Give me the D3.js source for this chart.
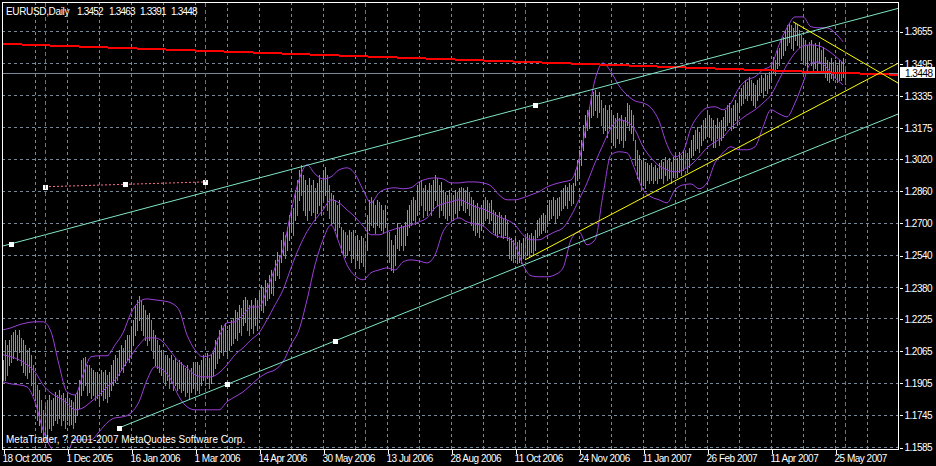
<!DOCTYPE html>
<html><head><meta charset="utf-8">
<script src="https://cdn.jsdelivr.net/npm/d3@7"></script>
<style>html,body{margin:0;padding:0;background:#000;}svg{display:block}</style>
</head><body>
<script>
// ---------------- DATA ----------------
const symbolTitle = "EURUSD,Daily";
const lastOHLC = [1.3452, 1.3463, 1.3391, 1.3448];
const bidPrice = 1.3448;
const copyright = "MetaTrader, ? 2001-2007 MetaQuotes Software Corp.";
const priceLabels = ["1.3655","1.3495","1.3335","1.3175","1.3020","1.2860","1.2700","1.2540","1.2380","1.2225","1.2065","1.1905","1.1745","1.1585"];
const dateLabels = ["18 Oct 2005","1 Dec 2005","16 Jan 2006","1 Mar 2006","14 Apr 2006","30 May 2006","13 Jul 2006","28 Aug 2006","11 Oct 2006","24 Nov 2006","11 Jan 2007","26 Feb 2007","11 Apr 2007","25 May 2007"];
const dateLabelBars = [0,32,64,96,128,160,192,224,256,288,320,352,384,416];

const highs = [
1.2019,1.2118,1.2093,1.2118,1.2143,1.2158,1.2168,1.2143,1.2168,1.2128,
1.2118,1.2093,1.2068,1.2078,1.2043,1.1994,1.1944,1.1894,1.1869,1.1820,
1.1770,1.1795,1.1820,1.1844,1.1820,1.1830,1.1859,1.1844,1.1869,1.1844,
1.1854,1.1830,1.1844,1.1830,1.1820,1.1810,1.1844,1.1859,1.1919,1.2019,
1.2029,1.2034,1.1994,1.1994,1.1979,1.1969,1.1959,1.1959,1.1944,1.1969,
1.1959,1.1969,1.1944,1.1959,1.1994,1.2019,1.2043,1.2029,1.2068,1.2093,
1.2078,1.2118,1.2143,1.2143,1.2183,1.2218,1.2292,1.2317,1.2337,1.2317,
1.2292,1.2267,1.2242,1.2252,1.2218,1.2168,1.2143,1.2118,1.2093,1.2068,
1.2058,1.2043,1.2043,1.2029,1.2043,1.2019,1.2029,1.2009,1.2019,1.2009,
1.1994,1.1979,1.1994,1.1969,1.1979,1.2009,1.1994,1.2009,1.1994,1.2019,
1.2043,1.2029,1.2053,1.2029,1.2043,1.2068,1.2118,1.2128,1.2168,1.2193,
1.2178,1.2203,1.2168,1.2193,1.2218,1.2228,1.2267,1.2257,1.2292,1.2277,
1.2317,1.2332,1.2317,1.2292,1.2317,1.2292,1.2327,1.2317,1.2357,1.2392,
1.2382,1.2417,1.2402,1.2441,1.2466,1.2456,1.2516,1.2556,1.2541,1.2616,
1.2656,1.2641,1.2680,1.2740,1.2790,1.2775,1.2865,1.2914,1.2964,1.2989,
1.2939,1.2914,1.2889,1.2924,1.2889,1.2914,1.2875,1.2899,1.2939,1.2914,
1.2964,1.2979,1.2939,1.2889,1.2850,1.2840,1.2815,1.2790,1.2815,1.2680,
1.2666,1.2656,1.2641,1.2666,1.2656,1.2666,1.2626,1.2641,1.2616,1.2636,
1.2626,1.2606,1.2740,1.2815,1.2830,1.2815,1.2790,1.2815,1.2805,1.2790,
1.2765,1.2790,1.2680,1.2656,1.2616,1.2591,1.2641,1.2700,1.2675,1.2690,
1.2685,1.2705,1.2765,1.2790,1.2815,1.2830,1.2815,1.2889,1.2904,1.2914,
1.2875,1.2889,1.2865,1.2899,1.2889,1.2914,1.2939,1.2924,1.2889,1.2904,
1.2865,1.2855,1.2840,1.2865,1.2850,1.2840,1.2865,1.2855,1.2875,1.2879,
1.2875,1.2865,1.2879,1.2855,1.2830,1.2815,1.2790,1.2800,1.2775,1.2790,
1.2815,1.2830,1.2815,1.2800,1.2815,1.2765,1.2755,1.2740,1.2755,1.2740,
1.2725,1.2740,1.2715,1.2631,1.2626,1.2616,1.2626,1.2606,1.2616,1.2601,
1.2626,1.2631,1.2651,1.2641,1.2651,1.2636,1.2666,1.2715,1.2725,1.2740,
1.2750,1.2740,1.2790,1.2815,1.2815,1.2830,1.2815,1.2825,1.2830,1.2865,
1.2875,1.2889,1.2879,1.2899,1.2889,1.2899,1.2964,1.3014,1.3064,1.3113,
1.3188,1.3238,1.3263,1.3277,1.3337,1.3352,1.3362,1.3337,1.3352,1.3312,
1.3273,1.3287,1.3263,1.3287,1.3248,1.3238,1.3223,1.3248,1.3223,1.3238,
1.3213,1.3228,1.3297,1.3287,1.3263,1.3238,1.3113,1.3064,1.3039,1.3014,
1.3024,1.3004,1.2999,1.2989,1.2999,1.2979,1.2989,1.2974,1.2999,1.3014,
1.3004,1.3029,1.3014,1.3024,1.3004,1.3029,1.3039,1.3024,1.3054,1.3039,
1.3064,1.3054,1.3049,1.3074,1.3113,1.3138,1.3163,1.3178,1.3153,1.3188,
1.3213,1.3223,1.3248,1.3238,1.3223,1.3213,1.3188,1.3223,1.3203,1.3213,
1.3228,1.3263,1.3287,1.3297,1.3273,1.3287,1.3312,1.3297,1.3337,1.3372,
1.3387,1.3412,1.3402,1.3427,1.3412,1.3397,1.3387,1.3412,1.3422,1.3437,
1.3422,1.3447,1.3437,1.3452,1.3487,1.3526,1.3511,1.3561,1.3571,1.3611,
1.3626,1.3661,1.3686,1.3695,1.3686,1.3671,1.3695,1.3686,1.3661,1.3636,
1.3621,1.3611,1.3586,1.3601,1.3611,1.3586,1.3596,1.3571,1.3601,1.3561,
1.3576,1.3526,1.3511,1.3501,1.3521,1.3501,1.3511,1.3487,1.3511,1.3501,
1.3521,1.3463];

const lows = [
1.1919,1.1919,1.1944,1.1994,1.2009,1.2029,1.2068,1.2019,1.2058,1.1994,
1.1959,1.1944,1.1929,1.1959,1.1894,1.1844,1.1820,1.1720,1.1695,1.1660,
1.1621,1.1645,1.1631,1.1680,1.1670,1.1695,1.1720,1.1705,1.1730,1.1695,
1.1720,1.1680,1.1720,1.1695,1.1700,1.1680,1.1710,1.1745,1.1780,1.1844,
1.1869,1.1894,1.1844,1.1859,1.1830,1.1844,1.1820,1.1830,1.1795,1.1844,
1.1820,1.1830,1.1810,1.1839,1.1869,1.1894,1.1909,1.1919,1.1944,1.1969,
1.1959,1.1994,1.2019,1.2009,1.2043,1.2093,1.2143,1.2168,1.2218,1.2168,
1.2143,1.2118,1.2093,1.2118,1.2068,1.2029,1.1994,1.1979,1.1959,1.1944,
1.1919,1.1894,1.1919,1.1879,1.1909,1.1869,1.1894,1.1869,1.1879,1.1859,
1.1869,1.1839,1.1859,1.1830,1.1859,1.1879,1.1859,1.1869,1.1854,1.1894,
1.1919,1.1894,1.1929,1.1879,1.1904,1.1944,1.1979,1.2004,1.2029,1.2058,
1.2043,1.2068,1.2029,1.2068,1.2093,1.2103,1.2128,1.2118,1.2158,1.2143,
1.2193,1.2208,1.2168,1.2143,1.2178,1.2153,1.2193,1.2168,1.2228,1.2267,
1.2257,1.2292,1.2317,1.2327,1.2352,1.2342,1.2417,1.2441,1.2426,1.2506,
1.2541,1.2526,1.2566,1.2616,1.2656,1.2641,1.2715,1.2740,1.2815,1.2840,
1.2765,1.2740,1.2715,1.2765,1.2740,1.2755,1.2715,1.2750,1.2790,1.2740,
1.2815,1.2840,1.2765,1.2725,1.2690,1.2705,1.2666,1.2631,1.2680,1.2556,
1.2541,1.2531,1.2541,1.2566,1.2506,1.2526,1.2491,1.2516,1.2476,1.2506,
1.2486,1.2476,1.2566,1.2666,1.2690,1.2680,1.2651,1.2690,1.2680,1.2666,
1.2656,1.2680,1.2541,1.2506,1.2466,1.2456,1.2491,1.2576,1.2566,1.2591,
1.2566,1.2591,1.2641,1.2680,1.2690,1.2715,1.2695,1.2740,1.2765,1.2790,
1.2730,1.2765,1.2740,1.2765,1.2740,1.2765,1.2815,1.2790,1.2730,1.2765,
1.2740,1.2725,1.2715,1.2740,1.2725,1.2715,1.2750,1.2730,1.2765,1.2790,
1.2765,1.2755,1.2775,1.2740,1.2690,1.2666,1.2641,1.2656,1.2631,1.2666,
1.2705,1.2715,1.2725,1.2705,1.2715,1.2656,1.2641,1.2631,1.2651,1.2631,
1.2626,1.2641,1.2616,1.2526,1.2516,1.2506,1.2526,1.2501,1.2506,1.2501,
1.2526,1.2541,1.2541,1.2531,1.2556,1.2541,1.2566,1.2631,1.2641,1.2651,
1.2666,1.2656,1.2700,1.2715,1.2725,1.2740,1.2705,1.2725,1.2740,1.2765,
1.2775,1.2790,1.2775,1.2815,1.2790,1.2800,1.2889,1.2914,1.2939,1.2989,
1.3064,1.3128,1.3163,1.3173,1.3228,1.3238,1.3263,1.3228,1.3253,1.3188,
1.3148,1.3163,1.3128,1.3173,1.3113,1.3088,1.3078,1.3123,1.3098,1.3113,
1.3078,1.3113,1.3188,1.3163,1.3148,1.3113,1.2989,1.2924,1.2914,1.2865,
1.2889,1.2875,1.2914,1.2899,1.2914,1.2899,1.2914,1.2899,1.2924,1.2924,
1.2899,1.2939,1.2914,1.2924,1.2899,1.2929,1.2939,1.2929,1.2954,1.2939,
1.2964,1.2974,1.2954,1.2979,1.3029,1.3039,1.3064,1.3074,1.3054,1.3088,
1.3113,1.3123,1.3148,1.3128,1.3113,1.3078,1.3078,1.3123,1.3088,1.3113,
1.3128,1.3163,1.3188,1.3203,1.3163,1.3173,1.3213,1.3188,1.3253,1.3287,
1.3297,1.3322,1.3312,1.3337,1.3312,1.3287,1.3277,1.3312,1.3337,1.3352,
1.3327,1.3362,1.3347,1.3372,1.3412,1.3447,1.3437,1.3472,1.3487,1.3521,
1.3536,1.3561,1.3586,1.3601,1.3571,1.3561,1.3611,1.3586,1.3576,1.3511,
1.3501,1.3487,1.3462,1.3511,1.3487,1.3452,1.3472,1.3462,1.3501,1.3452,
1.3462,1.3427,1.3412,1.3402,1.3422,1.3412,1.3422,1.3402,1.3412,1.3412,
1.3427,1.3391];

// u = bullish bar (close above open), d = bearish bar
const barDirection = [
"udduduudud","udduddddud","dududuudud","udududuuuu","dududududu",
"duduuuuduu","duuduuudud","uddudduddu","ddudududud","ududuududu",
"ududuuuduu","duduududud","uuddududuu","duduuduudu","uduuududud",
"dudududuud","uuddduddud","uddudududu","dduudududu","dudduduudu",
"duuududuud","dududuuddu","dududdudud","ududdududu","ududududud",
"duddududud","uuududuudu","uduududuud","uududuuuuu","uuduududud",
"dududududu","duududddud","ududududuu","dudududuud","uuduuududu",
"dududududu","uududuuduu","dududududu","duduuududu","uududududd",
"ududududud","ududududud","ud"].join("");

// Bollinger bands (20, 2), one reading every 4th bar
const bbStep = 4;
const bbUpper = [
1.2168,1.2178,1.2193,1.2203,1.2208,1.2208,1.2158,1.1994,1.1859,1.1844,
1.1944,1.2034,1.2039,1.2039,1.2093,1.2153,1.2252,1.2307,1.2322,1.2317,
1.2312,1.2302,1.2267,1.2143,1.2068,1.2034,1.2043,1.2133,1.2203,1.2208,
1.2242,1.2282,1.2282,1.2367,1.2476,1.2566,1.2755,1.2914,1.2989,1.2944,
1.2919,1.2929,1.2964,1.2974,1.2944,1.2865,1.2800,1.2850,1.2870,1.2875,
1.2870,1.2875,1.2904,1.2919,1.2924,1.2919,1.2899,1.2899,1.2904,1.2904,
1.2899,1.2884,1.2840,1.2815,1.2815,1.2825,1.2840,1.2855,1.2879,1.2894,
1.2904,1.2914,1.3014,1.3203,1.3412,1.3496,1.3452,1.3382,1.3337,1.3307,
1.3297,1.3273,1.3208,1.3089,1.3029,1.3054,1.3173,1.3238,1.3273,1.3278,
1.3263,1.3297,1.3372,1.3412,1.3427,1.3462,1.3482,1.3586,1.3671,1.3725,
1.3725,1.3676,1.3671,1.3671,1.3646,1.3601];
const bbMiddle = [
1.2044,1.2034,1.2019,1.1994,1.1959,1.1894,1.1854,1.1830,1.1805,1.1770,
1.1780,1.1810,1.1844,1.1884,1.1919,1.1979,1.2039,1.2093,1.2128,1.2128,
1.2108,1.2058,1.2009,1.1979,1.1944,1.1934,1.1934,1.1954,1.1994,1.2044,
1.2078,1.2118,1.2153,1.2218,1.2292,1.2367,1.2476,1.2576,1.2656,1.2715,
1.2765,1.2815,1.2800,1.2765,1.2730,1.2685,1.2641,1.2641,1.2656,1.2670,
1.2680,1.2690,1.2705,1.2725,1.2775,1.2795,1.2805,1.2815,1.2800,1.2780,
1.2770,1.2750,1.2730,1.2715,1.2690,1.2641,1.2616,1.2616,1.2636,1.2656,
1.2675,1.2735,1.2815,1.2899,1.2999,1.3089,1.3173,1.3213,1.3203,1.3163,
1.3079,1.3024,1.2984,1.2964,1.2954,1.2964,1.2989,1.3029,1.3074,1.3103,
1.3128,1.3173,1.3208,1.3238,1.3263,1.3297,1.3337,1.3412,1.3487,1.3546,
1.3581,1.3586,1.3581,1.3561,1.3531,1.3496];
const bbLower = [
1.1909,1.1899,1.1894,1.1884,1.1810,1.1670,1.1581,1.1546,1.1561,1.1621,
1.1621,1.1621,1.1660,1.1705,1.1730,1.1735,1.1755,1.1810,1.1919,1.1984,
1.1969,1.1919,1.1835,1.1785,1.1770,1.1770,1.1770,1.1770,1.1810,1.1835,
1.1859,1.1894,1.1929,1.1954,1.1969,1.2009,1.2093,1.2168,1.2317,1.2491,
1.2616,1.2690,1.2601,1.2491,1.2437,1.2417,1.2452,1.2466,1.2476,1.2466,
1.2506,1.2516,1.2511,1.2501,1.2541,1.2656,1.2705,1.2725,1.2705,1.2695,
1.2685,1.2651,1.2631,1.2626,1.2591,1.2491,1.2437,1.2432,1.2432,1.2442,
1.2476,1.2616,1.2656,1.2591,1.2616,1.2840,1.3039,1.3054,1.3049,1.2964,
1.2865,1.2830,1.2815,1.2800,1.2865,1.2889,1.2894,1.2870,1.2899,1.2999,
1.3049,1.3079,1.3064,1.3064,1.3079,1.3178,1.3263,1.3243,1.3228,1.3297,
1.3397,1.3496,1.3501,1.3471,1.3422,1.3387];

// hand-drawn objects: [bar, price] anchor points
const channelTop = [[4, 1.2596], [266, 1.3288]];
const channelBottom = [[58, 1.1680], [166, 1.2113]];
const supportYellow = [[261, 1.2516], [396, 1.3224]];
const resistYellow = [[395, 1.3701], [421, 1.3550]];
const redLine = [[0, 1.3591], [421, 1.3446]];
const cycleAnchors = [[21, 1.2880], [101, 1.2904]];
const cycleBars = [21, 101, 181, 261, 341, 421];

// ---------------- DRAWING ----------------
const W = 936, H = 466;
const PL = 2, PT = 2, PR = 898, PB = 450;
const nBars = highs.length;
const x = d3.scaleLinear().domain([0, 421]).range([3, 845]);
const y = d3.scaleLinear().domain([1.1585, 1.3655]).range([447, 31]);
const px = v => Math.round(v) + 0.5;
const FONT = "'Liberation Sans', Arial, sans-serif";

const svg = d3.select("body").append("svg").attr("width", W).attr("height", H)
  .style("font-family", FONT);
svg.append("rect").attr("width", W).attr("height", H).attr("fill", "#000");
svg.append("defs").append("clipPath").attr("id", "plot")
  .append("rect").attr("x", PL + 1).attr("y", PT + 1).attr("width", PR - PL - 1).attr("height", PB - PT - 1);

const plot = svg.append("g").attr("clip-path", "url(#plot)");

// grid
const grid = plot.append("g").attr("stroke", "#778899").attr("stroke-width", 1)
  .attr("stroke-dasharray", "3,3").attr("shape-rendering", "crispEdges");
priceLabels.forEach(s => {
  const yy = px(y(+s));
  grid.append("line").attr("x1", PL).attr("x2", PR).attr("y1", yy).attr("y2", yy);
});
d3.range(16, 440, 16).filter(b => x(b) < PR - 1).forEach(b => {
  const xx = px(x(b));
  grid.append("line").attr("x1", xx).attr("x2", xx).attr("y1", PT).attr("y2", PB);
});

// cycle lines (vertical separators)
cycleBars.forEach(b => {
  const xx = px(x(b));
  svg.append("path").attr("d", `M${xx},${PT + 1}V${PB - 1}`)
    .attr("stroke", "#d23c8a").attr("stroke-width", 1).attr("fill", "none")
    .attr("stroke-dasharray", "4,3").attr("shape-rendering", "crispEdges");
});

// bid line
plot.append("line").attr("x1", PL).attr("x2", PR)
  .attr("y1", px(y(bidPrice))).attr("y2", px(y(bidPrice)))
  .attr("stroke", "#778899").attr("shape-rendering", "crispEdges");

// bars
const upPath = [], dnPath = [];
for (let i = 0; i < nBars; i++) {
  const xx = px(x(i));
  const seg = `M${xx},${Math.round(y(highs[i]))}V${Math.round(y(lows[i])) + 1}`;
  (barDirection[i] === "d" ? dnPath : upPath).push(seg);
}
plot.append("path").attr("d", upPath.join("")).attr("stroke", "#32dc32").attr("fill", "none").attr("shape-rendering", "crispEdges");
plot.append("path").attr("d", dnPath.join("")).attr("stroke", "#f0641e").attr("fill", "none").attr("shape-rendering", "crispEdges");

// Bollinger bands
const bbLine = d3.line().x((d, k) => x(k * bbStep)).y(d => y(d)).curve(d3.curveMonotoneX);
[bbUpper, bbMiddle, bbLower].forEach(arr => {
  plot.append("path").attr("d", bbLine(arr)).attr("fill", "none").attr("stroke", "#9b3fd8").attr("stroke-width", 1);
});

// trend lines
const xEnd = x.invert(PR + 2), xStart = x.invert(PL - 2);
function through(p1, p2, b) { return p1[1] + (p2[1] - p1[1]) / (p2[0] - p1[0]) * (b - p1[0]); }
const tl = d3.line().x(d => x(d[0])).y(d => y(d[1]));
function drawLine(pts, from, color, width, crisp) {
  const a = [from, through(pts[0], pts[1], from)];
  const b = [xEnd, through(pts[0], pts[1], xEnd)];
  const p = plot.append("path").attr("d", tl([a, b])).attr("stroke", color).attr("stroke-width", width).attr("fill", "none");
  if (crisp) p.attr("shape-rendering", "crispEdges");
}
drawLine(redLine, xStart, "#ff0000", 2, true);
drawLine(channelTop, xStart, "#7fe6c8", 1);
drawLine(channelBottom, channelBottom[0][0], "#7fe6c8", 1);
drawLine(supportYellow, supportYellow[0][0], "#ffff00", 1);
drawLine(resistYellow, resistYellow[0][0], "#ffff00", 1);

// cycle anchor line (dotted)
plot.append("path").attr("d", tl(cycleAnchors)).attr("stroke", "#ff6f8f").attr("stroke-dasharray", "2,2").attr("fill", "none");

// selection squares
function square(b, p) {
  plot.append("rect").attr("x", Math.round(x(b)) - 2).attr("y", Math.round(y(p)) - 2)
    .attr("width", 5).attr("height", 5).attr("fill", "#ffffff");
}
square(channelTop[0][0], channelTop[0][1]);
square(channelTop[1][0], channelTop[1][1]);
square(channelBottom[0][0], channelBottom[0][1]);
square(channelBottom[1][0], channelBottom[1][1]);
square((channelBottom[0][0] + channelBottom[1][0]) / 2, (channelBottom[0][1] + channelBottom[1][1]) / 2);
square(cycleAnchors[0][0], cycleAnchors[0][1]);
square(cycleAnchors[1][0], cycleAnchors[1][1]);
square((cycleAnchors[0][0] + cycleAnchors[1][0]) / 2, (cycleAnchors[0][1] + cycleAnchors[1][1]) / 2);

// frame
svg.append("rect").attr("x", PL + 0.5).attr("y", PT + 0.5).attr("width", PR - PL).attr("height", PB - PT - 1)
  .attr("fill", "none").attr("stroke", "#fff").attr("shape-rendering", "crispEdges");

// right axis
const yAxis = d3.axisRight(y).tickValues(priceLabels.map(Number)).tickFormat((d, i) => priceLabels[i])
  .tickSize(3).tickPadding(4);
const ya = svg.append("g").attr("transform", `translate(${PR + 0.5},0.5)`).call(yAxis);
ya.select(".domain").remove();
ya.selectAll(".tick line").attr("stroke", "#fff").attr("x1", 1).attr("x2", 4).attr("shape-rendering", "crispEdges");
ya.selectAll(".tick text").attr("fill", "#fff").attr("x", 6).attr("dy", "0.34em")
  .style("font-size", "10px").style("letter-spacing", "-0.5px").style("font-family", FONT);

// bottom axis
const xAxis = d3.axisBottom(x).tickValues(dateLabelBars).tickFormat((d, i) => dateLabels[i]).tickSize(4);
const xa = svg.append("g").attr("transform", `translate(0.5,${PB - 0.5})`).call(xAxis);
xa.select(".domain").remove();
xa.selectAll(".tick line").attr("stroke", "#fff").attr("shape-rendering", "crispEdges");
xa.selectAll(".tick text").attr("fill", "#fff").attr("text-anchor", "start").attr("x", -1.5).attr("y", 12).attr("dy", 0)
  .style("font-size", "10px").style("letter-spacing", "-0.5px").style("font-family", FONT);

// current price box
const by = Math.round(y(bidPrice));
svg.append("rect").attr("x", PR + 2).attr("y", by - 6).attr("width", 35).attr("height", 11).attr("fill", "#fff");
svg.append("text").attr("x", PR + 7).attr("y", by + 4).attr("fill", "#000")
  .style("font-size", "10px").style("letter-spacing", "-0.5px").text(d3.format(".4f")(bidPrice));

// title
const title = svg.append("text").attr("y", 15).attr("fill", "#fff").style("font-size", "10px").style("letter-spacing", "-0.35px");
title.append("tspan").attr("x", 6).text(symbolTitle);
const ohlcX = [77, 109, 140, 171];
lastOHLC.forEach((v, i) => title.append("tspan").attr("x", ohlcX[i]).style("letter-spacing", "-0.8px").text(d3.format(".4f")(v)));

// copyright
svg.append("text").attr("x", 6).attr("y", 443).attr("fill", "#fff").style("font-size", "10px")
  .style("letter-spacing", "0px").text(copyright);
</script>
</body></html>
